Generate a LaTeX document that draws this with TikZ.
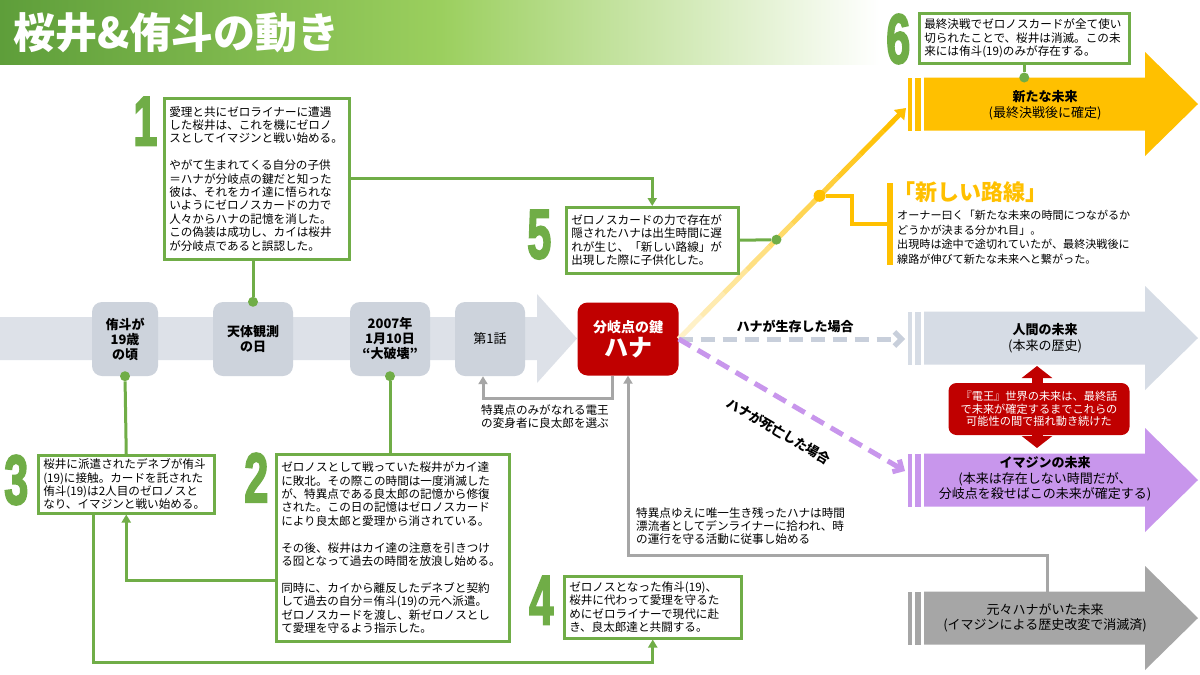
\documentclass[tikz,border=0pt]{standalone}
\usepackage{fontspec, graphicx}
\setmainfont{Noto Sans CJK JP}
\newfontface\numfont{Liberation Sans Bold}[FakeBold = 3]
\usetikzlibrary{arrows.meta, calc}
\tikzset{>={Triangle[length = 8pt, width = 9pt]}}

\definecolor{grn}{HTML}{70AD47}
\definecolor{band}{HTML}{DDE1E8}
\definecolor{stopc}{HTML}{CDD3DC}
\definecolor{keyred}{HTML}{C00000}
\definecolor{gold}{HTML}{FFC000}
\definecolor{lilac}{HTML}{C896EC}
\definecolor{human}{HTML}{D6DCE5}
\definecolor{dashc}{HTML}{C8CFDB}
\definecolor{lost}{HTML}{A6A6A6}
\definecolor{tdark}{HTML}{5E9E3A}
\definecolor{tlight}{HTML}{9BCF5E}
\pgfdeclarehorizontalshading{titlebar}{100bp}{color(0bp)=(tdark); color(25bp)=(tdark); color(50bp)=(tlight); color(75bp)=(white); color(100bp)=(white)}

\tikzset{
  note/.style = {draw = grn, line width = 2.5pt, fill = white, anchor = north west, align = left, inner xsep = 5pt, inner ysep = 2pt, font = \fontsize{11.6}{13.4}\selectfont},
  num/.style = {anchor = north west, inner sep = 0pt, text = grn, font = \numfont\fontsize{70}{70}\selectfont},
  stop/.style = {fill = stopc, rounded corners = 10pt, minimum height = 74pt, align = center, font = \fontsize{13}{15}\selectfont\bfseries},
  dot/.style = {circle, fill = grn, minimum size = 10pt, inner sep = 0pt},
  link/.style = {draw = grn, line width = 3pt},
  glink/.style = {draw = lost, line width = 3pt},
  small/.style = {align = left, anchor = north west, inner sep = 0pt, font = \fontsize{11.6}{13.4}\selectfont},
  futext/.style = {align = center, font = \fontsize{13}{15.5}\selectfont},
  bigdash/.style = {line width = 5pt, dash pattern = on 14pt off 8pt, -{Straight Barb[length = 7pt, width = 14pt]}}
}

\begin{document}
\begin{tikzpicture}[x = 1pt, y = -1pt]
    \useasboundingbox (0,0) rectangle (1200,675);
    \fill [white] (0,0) rectangle (1200,675);
    \fill [shading = titlebar] (0,0) rectangle (880,64);
    \node [anchor = west, text = white, font = \fontsize{42}{42}\selectfont\bfseries] (ttl) at (10,33) {桜井\&侑斗の動き};

    \foreach \y/\col in {104/gold, 338/human, 480/lilac, 618/lost} {
        \fill [\col] (908,\y-26.5) rectangle (912,\y+26.5);
        \fill [\col] (915,\y-26.5) rectangle (921,\y+26.5);
        \fill [\col] (924,\y-26.5) -- (1145,\y-26.5) -- (1145,\y-52) -- (1198,\y) -- (1145,\y+52) -- (1145,\y+26.5) -- (924,\y+26.5) -- cycle;
    }
    \node [futext] (newf) at (1045,105) {\textbf{新たな未来}\\(最終決戦後に確定)};
    \node [futext] (humanf) at (1045,338) {\textbf{人間の未来}\\(本来の歴史)};
    \node [futext] (imaginf) at (1045,479) {\textbf{イマジンの未来}\\(本来は存在しない時間だが、\\分岐点を殺せばこの未来が確定する)};
    \node [futext] (lostf) at (1045,618) {元々ハナがいた未来\\(イマジンによる歴史改変で消滅済)};

    \fill [band] (0,317) -- (537,317) -- (537,294) -- (577,338.5) -- (537,383) -- (537,360) -- (0,360) -- cycle;
    \node [stop, minimum width = 66pt] (age) at (125,339) {侑斗が\\19歳\\の頃};
    \node [stop, minimum width = 80pt] (star) at (253,339) {天体観測\\の日};
    \node [stop, minimum width = 80pt] (crash) at (390,339) {2007年\\1月10日\\“大破壊”};
    \node [stop, minimum width = 70pt, font = \fontsize{13}{15}\selectfont] (ep1) at (490,339) {第1話};

    \coordinate (ye) at (906,108);
    \coordinate (hl) at (905,339);
    \coordinate (dl) at (905,471);
    \coordinate (lt) at (1047,592);
    \coordinate (up) at (1037,366);
    \coordinate (dn) at (1037,448);

    \node [fill = keyred, rounded corners = 10pt, minimum width = 101pt, minimum height = 73pt, align = center, text = white, font = \bfseries] (hana) at (628,339) {{\fontsize{14}{16}\selectfont 分岐点の鍵}\\[2pt]{\fontsize{24}{26}\selectfont ハナ}};

    \foreach \i [evaluate = \i as \p using {int(22 + 9*\i)}] in {0,...,8} {
        \draw [gold!\p, line width = 5pt] ($(hana.east)!\i/10!(ye)$) -- ($(hana.east)!\i/10+0.1!(ye)$);
    }
    \draw [gold, line width = 5pt, -{Triangle[length = 10pt, width = 14pt]}] ($(hana.east)!0.9!(ye)$) -- (ye);

    \draw [dashc, bigdash] (hana.east) -- (hl);
    \draw [lilac, bigdash] (hana.east) -- (dl);
    \node [font = \fontsize{13}{15}\selectfont\bfseries] (alive) at (795,326) {ハナが生存した場合};
    \node [rotate = -30, font = \fontsize{13}{15}\selectfont\bfseries] (dead) at (779,431) {ハナが死亡した場合};

    \draw [glink, ->] ([xshift = -16pt] hana.south) -- ++(0,23) -| ([xshift = -7pt] ep1.south);
    \node [small] (ep1txt) at (481,404) {特異点のみがなれる電王\\の変身者に良太郎を選ぶ};
    \draw [glink, ->] (lt) -- ++(0,-37) -| (hana.south);
    \node [small] (hanatxt) at (636,507) {特異点ゆえに唯一生き残ったハナは時間\\漂流者としてデンライナーに拾われ、時\\の運行を守る活動に従事し始める};

    \draw [keyred, line width = 11pt, {Triangle[length = 12pt, width = 30pt]}-{Triangle[length = 12pt, width = 30pt]}] (up) -- (dn);
    \node [fill = keyred, rounded corners = 8pt, minimum width = 181pt, minimum height = 52pt, align = center, text = white, font = \fontsize{11.2}{12.6}\selectfont] (sekai) at (1039,409) {『電王』世界の未来は、最終話\\で未来が確定するまでこれらの\\可能性の間で揺れ動き続けた};

    \node [note, text width = 175pt, minimum height = 161pt] (b1) at (163,97) {愛理と共にゼロライナーに遭遇\\した桜井は、これを機にゼロノ\\スとしてイマジンと戦い始める。\\[13.4pt]やがて生まれてくる自分の子供\\＝ハナが分岐点の鍵だと知った\\彼は、それをカイ達に悟られな\\いようにゼロノスカードの力で\\人々からハナの記憶を消した。\\この偽装は成功し、カイは桜井\\が分岐点であると誤認した。};
    \node [note, text width = 162pt, minimum height = 66pt] (b5) at (565,206) {ゼロノスカードの力で存在が\\隠されたハナは出生時間に遅\\れが生じ、「新しい路線」が\\出現した際に子供化した。};
    \node [note, text width = 200pt, minimum height = 50pt] (b6) at (918,12) {最終決戦でゼロノスカードが全て使い\\切られたことで、桜井は消滅。この未\\来には侑斗(19)のみが存在する。};
    \node [note, text width = 166pt, minimum height = 58pt] (b3) at (37,454) {桜井に派遣されたデネブが侑斗\\(19)に接触。カードを託された\\侑斗(19)は2人目のゼロノスと\\なり、イマジンと戦い始める。};
    \node [note, text width = 223pt, minimum height = 187pt] (b2) at (275,453) {ゼロノスとして戦っていた桜井がカイ達\\に敗北。その際この時間は一度消滅した\\が、特異点である良太郎の記憶から修復\\された。この日の記憶はゼロノスカード\\により良太郎と愛理から消されている。\\[13.4pt]その後、桜井はカイ達の注意を引きつけ\\る囮となって過去の時間を放浪し始める。\\[13.4pt]同時に、カイから離反したデネブと契約\\して過去の自分＝侑斗(19)の元へ派遣。\\ゼロノスカードを渡し、新ゼロノスとし\\て愛理を守るよう指示した。};
    \node [note, text width = 167pt, minimum height = 62pt] (b4) at (563,575) {ゼロノスとなった侑斗(19)、\\桜井に代わって愛理を守るた\\めにゼロライナーで現代に赴\\き、良太郎達と共闘する。};

    \node [num] (n1) at (133,97) {\scalebox{0.62}[1]{1}};
    \node [num] (n5) at (527,210) {\scalebox{0.62}[1]{5}};
    \node [num] (n6) at (886,14) {\scalebox{0.62}[1]{6}};
    \node [num] (n3) at (4,455) {\scalebox{0.62}[1]{3}};
    \node [num] (n2) at (244,453) {\scalebox{0.62}[1]{2}};
    \node [num] (n4) at (529,576) {\scalebox{0.62}[1]{4}};

    \node [dot] (dage) at (age.south) {};
    \node [dot] (dstar) at (star.north) {};
    \node [dot] (dcrash) at (crash.south) {};
    \node [dot] (dnew) at (b6.south |- 0,77.5) {};
    \node [dot] (d5) at ($(hana.east)!0.43!(ye)$) {};
    \draw [link] (dage) -- (b3.north);
    \draw [link] (dstar) -- (dstar |- b1.south);
    \draw [link] (dcrash) -- (dcrash |- b2.north);
    \draw [link, ->] (b1.east) -| (b5.north);
    \draw [link] (b5.east) -- (d5);
    \draw [link] (b6.south) -- (dnew);
    \draw [link, ->] (b2.west |- 0,580) -| (b3.south);
    \draw [link, ->] ([xshift = -33pt] b3.south) -- ++(0,148) -| (b4.south);

    \node [circle, fill = gold, minimum size = 12pt, inner sep = 0pt] (d6) at ($(hana.east)!0.62!(ye)$) {};
    \node [fill = gold, minimum width = 6pt, minimum height = 82pt, inner sep = 0pt] (rbar) at (890,224) {};
    \draw [gold, line width = 4pt] (d6) -| ($(rbar.west) + (-35,0)$) -- (rbar.west);
    \node [anchor = north west, inner sep = 0pt, text = gold, font = \fontsize{22}{24}\selectfont\bfseries] (rosen) at (893,181) {「新しい路線」};
    \node [small, font = \fontsize{11.1}{14.6}\selectfont] (rosentxt) at (897,210) {オーナー曰く「新たな未来の時間につながるか\\どうかが決まる分かれ目」。\\出現時は途中で途切れていたが、最終決戦後に\\線路が伸びて新たな未来へと繋がった。};
\end{tikzpicture}
\end{document}
